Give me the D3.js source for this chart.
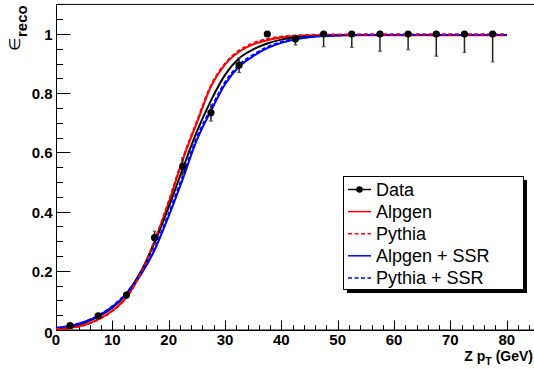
<!DOCTYPE html>
<html><head><meta charset="utf-8">
<script src="https://cdn.jsdelivr.net/npm/d3@7"></script>
<style>body{margin:0;background:#fff}svg{display:block}</style>
</head><body>
<svg id="c" width="534" height="369"></svg>
<script>
// ---- data ----
const dataX = [2.5,7.5,12.5,17.5,22.5,27.5,32.5,37.5,42.5,47.5,52.5,57.5,62.5,67.5,72.5,77.5];
const dataY = [0.015,0.048,0.118,0.312,0.552,0.734,0.895,1.0,0.983,1.0,1.0,1.0,1.0,1.0,1.0,1.0];
const errLow = [0.004,0.006,0.008,0.022,0.03,0.028,0.025,0,0.02,0.043,0.045,0.058,0.053,0.075,0.062,0.094];
const errHigh = [0.004,0.006,0.008,0.022,0.03,0.028,0.025,0,0.012,0,0,0,0,0,0,0];

const curveX = [0,2.5,5,7.5,10,12.5,15,17.5,20,22.5,25,27.5,30,32.5,35,37.5,40,42.5,45,47.5,50,52.5,55,57.5,60,62.5,65,67.5,70,72.5,75,77.5,80];
const fitData = [0.006,0.012,0.024,0.045,0.075,0.122,0.195,0.295,0.415,0.545,0.67,0.775,0.862,0.918,0.948,0.968,0.981,0.989,0.993,0.995,0.996,0.997,0.997,0.997,0.997,0.997,0.997,0.997,0.997,0.997,0.997,0.997,0.997];
const alpgen = [0.003,0.007,0.017,0.036,0.065,0.11,0.19,0.30,0.43,0.575,0.70,0.822,0.897,0.94,0.965,0.979,0.988,0.993,0.995,0.996,0.996,0.996,0.996,0.996,0.996,0.996,0.996,0.996,0.996,0.996,0.996,0.996,0.996];
const pythia = [0.003,0.007,0.016,0.035,0.064,0.11,0.19,0.302,0.435,0.58,0.705,0.826,0.9,0.944,0.969,0.983,0.991,0.995,0.997,0.998,0.998,0.998,0.998,0.998,0.998,0.998,0.998,0.998,0.998,0.998,0.998,0.998,0.998];
const alpgenSSR = [0.007,0.014,0.027,0.048,0.078,0.122,0.185,0.27,0.385,0.51,0.642,0.74,0.83,0.89,0.925,0.952,0.97,0.982,0.989,0.993,0.995,0.996,0.997,0.997,0.997,0.997,0.997,0.997,0.997,0.997,0.997,0.997,0.997];
const pythiaSSR = [0.007,0.014,0.027,0.049,0.08,0.125,0.19,0.277,0.393,0.52,0.65,0.748,0.837,0.895,0.93,0.956,0.973,0.984,0.99,0.994,0.996,0.997,0.998,0.998,0.998,0.998,0.998,0.998,0.998,0.998,0.998,0.998,0.998];

const xTickLabels = [0,10,20,30,40,50,60,70,80];
const yTickLabels = [0,0.2,0.4,0.6,0.8,1];
const legendLabels = ["Data","Alpgen","Pythia","Alpgen + SSR","Pythia + SSR"];

// ---- layout ----
const svg = d3.select("#c");
const x = d3.scaleLinear().domain([0,85]).range([56,56+85*5.634]);
const y = d3.scaleLinear().domain([0,1.1]).range([330,330-1.1*296]);
const FONT = "'Liberation Sans', Arial, Helvetica, sans-serif";

// frame
svg.append("rect").attr("x",56.5).attr("y",y(1.1)).attr("width",x(85)-56).attr("height",330-y(1.1))
  .attr("fill","none").attr("stroke","#000").attr("stroke-width",1);

// ticks
const g = svg.append("g").attr("stroke","#000").attr("stroke-width",1);
d3.range(0,85,2).forEach(v=>{
  const major = v%10===0;
  const px = Math.round(x(v))+0.5;
  g.append("line").attr("x1",px).attr("x2",px).attr("y1",330).attr("y2",330-(major?9.5:4.8));
});
d3.range(0,1.1001,0.05).forEach(v=>{
  const major = Math.abs(v/0.2-Math.round(v/0.2))<1e-6;
  const py = Math.round(y(v))+0.5;
  g.append("line").attr("x1",56).attr("x2",56+(major?14.5:7.2)).attr("y1",py).attr("y2",py);
});
// axis lines
svg.append("line").attr("x1",56).attr("x2",x(85)).attr("y1",330.5).attr("y2",330.5).attr("stroke","#000");
svg.append("line").attr("x1",56.5).attr("x2",56.5).attr("y1",y(1.1)).attr("y2",330.5).attr("stroke","#000");

// tick labels
svg.append("g").selectAll("text").data(xTickLabels).join("text")
  .attr("x",d=>x(d)).attr("y",344.5).attr("text-anchor","middle")
  .attr("font-family",FONT).attr("font-weight","bold").attr("font-size",15).text(d=>d);
svg.append("g").selectAll("text").data(yTickLabels).join("text")
  .attr("x",52.5).attr("y",d=>y(d)+6+(d===0?1.5:0)).attr("text-anchor","end")
  .attr("font-family",FONT).attr("font-weight","bold").attr("font-size",15).text(d=>d===0?"0":d===1?"1":d.toFixed(1));

// axis titles
const xt = svg.append("text").attr("x",533).attr("y",360.5).attr("text-anchor","end")
  .attr("font-family",FONT).attr("font-weight","bold").attr("font-size",14);
xt.append("tspan").text("Z p");
xt.append("tspan").attr("font-size",10.5).attr("dy",4.5).text("T");
xt.append("tspan").attr("dy",-4.5).text(" (GeV)");

svg.append("text").attr("transform","translate(20,51) rotate(-90)")
  .attr("font-family","'DejaVu Sans', sans-serif").attr("font-size",15).text("\u2208");
svg.append("text").attr("transform","translate(27,37) rotate(-90)")
  .attr("font-family",FONT).attr("font-weight","bold").attr("font-size",15).text("reco");

// curves
const line = d3.line().x((d,i)=>x(curveX[i])).y(d=>y(d)).curve(d3.curveMonotoneX);
const curves = [
  {vals:alpgen,color:"#ff0000",dash:null},
  {vals:fitData,color:"#000000",dash:null},
  {vals:alpgenSSR,color:"#0000ff",dash:null},
  {vals:pythiaSSR,color:"#0000ff",dash:"4,2.5"},
  {vals:pythia,color:"#ff0000",dash:"4,2.5"}
];
curves.forEach(c=>{
  svg.append("path").attr("d",line(c.vals)).attr("fill","none")
    .attr("stroke",c.color).attr("stroke-width",2).attr("stroke-dasharray",c.dash);
});

// data points with error bars
const pts = svg.append("g");
dataX.forEach((xv,i)=>{
  const px = x(xv);
  const lo = dataY[i]-errLow[i], hi = dataY[i]+errHigh[i];
  if (errLow[i]>0 || errHigh[i]>0) {
    pts.append("line").attr("x1",px).attr("x2",px).attr("y1",y(hi)).attr("y2",y(lo))
      .attr("stroke","#222").attr("stroke-width",1.5);
    if (errLow[i]>0) pts.append("line").attr("x1",px-1.8).attr("x2",px+1.8).attr("y1",y(lo)).attr("y2",y(lo)).attr("stroke","#555").attr("stroke-width",1.2);
    if (errHigh[i]>0) pts.append("line").attr("x1",px-1.8).attr("x2",px+1.8).attr("y1",y(hi)).attr("y2",y(hi)).attr("stroke","#555").attr("stroke-width",1.2);
  }
  pts.append("circle").attr("cx",px).attr("cy",y(dataY[i])).attr("r",3.6).attr("fill","#000");
});

// legend
const L = {x:343, y:176, w:180, h:113};
svg.append("rect").attr("x",L.x+4).attr("y",L.y+4).attr("width",L.w).attr("height",L.h).attr("fill","#000");
svg.append("rect").attr("x",L.x+0.5).attr("y",L.y+0.5).attr("width",L.w).attr("height",L.h).attr("fill","#fff").attr("stroke","#000");
const legStyles = [
  {color:"#000",dash:null,marker:true},
  {color:"#ff0000",dash:null},
  {color:"#ff0000",dash:"4,2.5"},
  {color:"#0000ff",dash:null},
  {color:"#0000ff",dash:"4,2.5"}
];
legendLabels.forEach((t,i)=>{
  const ly = 189.5 + i*22.1;
  const s = legStyles[i];
  svg.append("line").attr("x1",348).attr("x2",371).attr("y1",ly).attr("y2",ly)
    .attr("stroke",s.color).attr("stroke-width",1.5).attr("stroke-dasharray",s.dash);
  if (s.marker) svg.append("circle").attr("cx",359.5).attr("cy",ly).attr("r",3.2).attr("fill","#000");
  svg.append("text").attr("x",376).attr("y",ly+6.3).attr("font-family",FONT).attr("font-size",18).text(t);
});
</script>
</body></html>
